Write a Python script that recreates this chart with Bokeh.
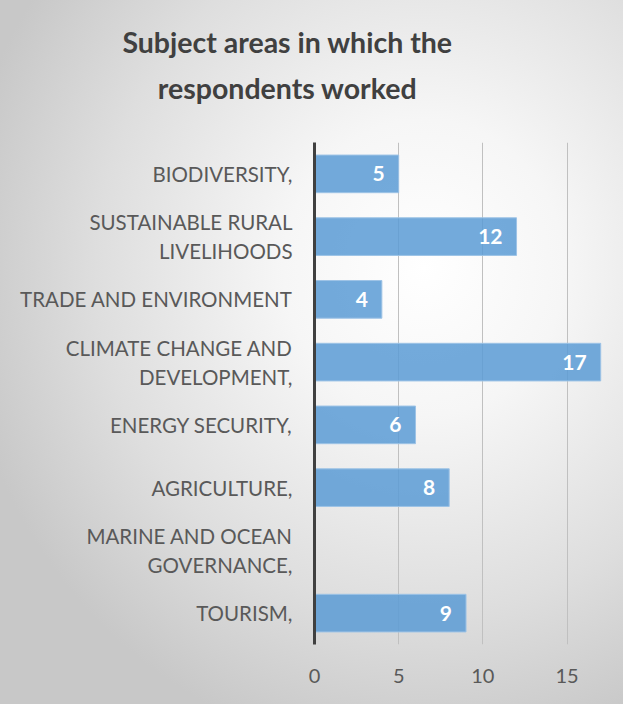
from bokeh.plotting import figure
from bokeh.layouts import column
from bokeh.models import FactorRange, ColumnDataSource, FixedTicker
from bokeh.core.properties import value
from bokeh.embed import file_html
from bokeh.resources import INLINE

categories = [
    "BIODIVERSITY,",
    "SUSTAINABLE RURAL\nLIVELIHOODS",
    "TRADE AND ENVIRONMENT",
    "CLIMATE CHANGE AND\nDEVELOPMENT,",
    "ENERGY SECURITY,",
    "AGRICULTURE,",
    "MARINE AND OCEAN\nGOVERNANCE,",
    "TOURISM,",
]
counts = [5, 12, 4, 17, 6, 8, 0, 9]
x_ticks = [0, 5, 10, 15]
title_lines = ["Subject areas in which the", "respondents worked"]

FONT = "Lato"
W, H_TITLE, H_MAIN = 623, 142, 562

# ---- title strip (frame spans the whole strip, units are pixels) ----
t = figure(width=W, height=H_TITLE, x_range=(0, W), y_range=(0, H_TITLE),
           output_backend="svg", toolbar_location=None, min_border=0)
t.frame_align = False
t.axis.visible = False
t.grid.visible = False
t.outline_line_color = None
t.border_fill_color = None
t.background_fill_color = None
t.text(x=[287, 287], y=[101, 55], text=title_lines, text_align="center",
       text_baseline="alphabetic", text_font=value(FONT), text_font_style="bold",
       text_font_size="28.5px", text_color="#404040")

# ---- bar chart ----
src = ColumnDataSource(dict(cat=categories, n=counts))
lab_cats = [c for c, v in zip(categories, counts) if v > 0]
lab_vals = [v for v in counts if v > 0]
lab_src = ColumnDataSource(dict(cat=lab_cats, n=lab_vals, t=[str(v) for v in lab_vals]))

p = figure(
    width=W, height=H_MAIN,
    y_range=FactorRange(factors=list(reversed(categories))),
    x_range=(0, 17.7),
    output_backend="svg", toolbar_location=None,
    min_border_left=314, min_border_right=11, min_border_top=0, min_border_bottom=60,
)
p.frame_align = False
p.border_fill_color = None
p.background_fill_color = None
p.outline_line_color = None

p.hbar(y="cat", right="n", left=0, height=0.6, source=src,
       fill_color="#5B9BD5", fill_alpha=0.85, line_color="#9DC3E6", line_width=1)

p.text(x="n", y="cat", text="t", source=lab_src, text_align="right", text_baseline="middle",
       x_offset=-14, text_color="white", text_font=value(FONT), text_font_style="bold",
       text_font_size="21px")

p.xgrid.ticker = FixedTicker(ticks=x_ticks)
p.xgrid.grid_line_color = "#c0c0c0"
p.ygrid.grid_line_color = None

p.xaxis.ticker = FixedTicker(ticks=x_ticks)
p.xaxis.axis_line_color = None
p.xaxis.major_tick_line_color = None
p.xaxis.minor_tick_line_color = None
p.xaxis.major_label_text_font = FONT
p.xaxis.major_label_text_font_size = "20px"
p.xaxis.major_label_text_color = "#595959"
p.xaxis.major_label_standoff = 18

p.yaxis.axis_line_color = "#404040"
p.yaxis.axis_line_width = 3
p.yaxis.major_tick_line_color = None
p.yaxis.minor_tick_line_color = None
p.yaxis.major_label_text_font = FONT
p.yaxis.major_label_text_font_size = "20.5px"
p.yaxis.major_label_text_color = "#595959"
p.yaxis.major_label_standoff = 16

layout = column(t, p, spacing=0, styles={
    "background": "radial-gradient(ellipse 75% 70% at 68% 38%, #ffffff 0%, #f6f6f6 30%, #dedede 70%, #c8c8c8 100%)"})

open("out.html", "w").write(file_html(layout, INLINE))
